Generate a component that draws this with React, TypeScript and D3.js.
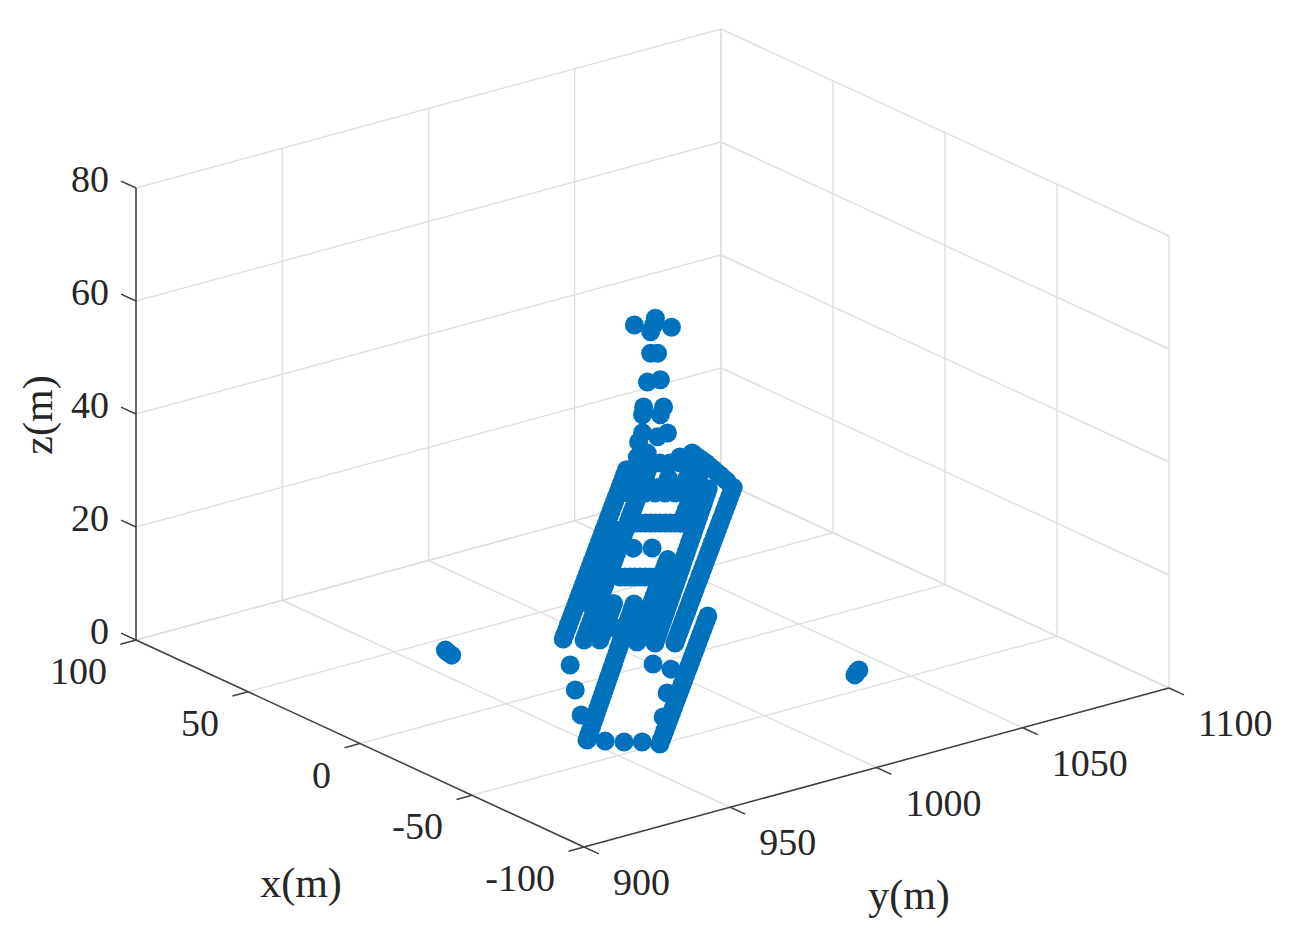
import React, { useEffect, useRef } from "react";
import * as d3 from "d3";

type Point2 = [number, number];
type Point3 = [number, number, number];

const xTicks = [-100, -50, 0, 50, 100];
const yTicks = [900, 950, 1000, 1050, 1100];
const zTicks = [0, 20, 40, 60, 80];

// tower on top of the structure
const towerPoints: Point3[] = [
  [3, 996.1, 60], [-3.1, 1004.1, 59.6], [-0.5, 1000.6, 61.2], [0.3, 999.6, 58.8], [-0.2, 1000.2, 60],
  [0.3, 999.6, 55], [-0.8, 1001.1, 55], [0.8, 998.9, 49.9], [-1.3, 1001.7, 50.3],
  [1.5, 998.1, 45.5], [-1.8, 1002.4, 45.5], [1.7, 997.9, 44.1], [-1.3, 1001.7, 44.1],
  [1.7, 997.9, 40.9], [-2.5, 1003.2, 40.9], [2.3, 997, 39.3], [-0.8, 1001.1, 40.2],
];

// upper deck rails, all at z = 10
const railA: Point2[] = [
  [-4.4, 966.1], [-1.9, 968.6], [0.6, 971.1], [3.1, 973.6], [5.6, 976.1], [8.1, 978.6], [10.6, 981.1], [13.1, 983.6],
  [15.6, 986.1], [18.1, 988.6], [20.6, 991.1], [23.1, 993.6], [25.6, 996.1], [28.1, 998.6], [30.6, 1001.1], [33.1, 1003.6],
  [35.6, 1006.1], [38.1, 1008.6], [40.6, 1011.1], [43.1, 1013.6], [45.6, 1016.1], [48.1, 1018.6], [50.6, 1021.1], [53.1, 1023.6],
  [55.6, 1026.1], [58.1, 1028.6], [60.6, 1031.1], [63.1, 1033.6], [65.6, 1036.1], [68.1, 1038.6], [70.6, 1041.1], [73.1, 1043.6],
  [75.6, 1046.1], [78.1, 1048.6], [80.6, 1051.1], [83.1, 1053.6], [85.6, 1056.1], [88.1, 1058.6],
];
const railAB: Point2[] = [
  [13.55, 988.1], [18.55, 993.1], [23.55, 998.1], [28.55, 1003.1], [33.55, 1008.1], [38.55, 1013.1], [43.55, 1018.1],
  [48.55, 1023.1], [53.55, 1028.1], [73.55, 1048.1], [78.55, 1053.1], [83.55, 1058.1],
];
const railB: Point2[] = [
  [-8.5, 970.1], [-6, 972.6], [-3.5, 975.1], [-1, 977.6], [1.5, 980.1], [4, 982.6], [6.5, 985.1], [9, 987.6],
  [11.5, 990.1], [14, 992.6], [16.5, 995.1], [19, 997.6], [21.5, 1000.1], [24, 1002.6], [26.5, 1005.1], [29, 1007.6],
  [31.5, 1010.1], [34, 1012.6], [36.5, 1015.1], [39, 1017.6], [41.5, 1020.1], [44, 1022.6], [46.5, 1025.1], [49, 1027.6],
  [51.5, 1030.1], [54, 1032.6], [56.5, 1035.1], [59, 1037.6], [61.5, 1040.1], [64, 1042.6], [66.5, 1045.1], [69, 1047.6],
  [71.5, 1050.1], [74, 1052.6], [76.5, 1055.1], [79, 1057.6], [81.5, 1060.1], [84, 1062.6], [86.5, 1065.1],
];
const railC: Point2[] = [
  [-11.1, 973.5], [-8.6, 976], [-6.1, 978.5], [-3.6, 981], [-1.1, 983.5], [1.4, 986], [3.9, 988.5], [6.4, 991], [8.9, 993.5],
];
const railD: Point2[] = [
  [-18.4, 980.6], [-15.9, 983.1], [-13.4, 985.6], [-10.9, 988.1], [-8.4, 990.6], [-5.9, 993.1], [-3.4, 995.6], [-0.9, 998.1],
  [1.6, 1000.6], [4.1, 1003.1], [6.6, 1005.6], [9.1, 1008.1], [11.6, 1010.6], [14.1, 1013.1], [16.6, 1015.6], [19.1, 1018.1],
  [21.6, 1020.6], [24.1, 1023.1], [26.6, 1025.6],
  [46.6, 1045.6], [49.1, 1048.1], [51.6, 1050.6], [54.1, 1053.1], [56.6, 1055.6], [59.1, 1058.1], [61.6, 1060.6],
  [64.1, 1063.1], [66.6, 1065.6], [69.1, 1068.1], [71.6, 1070.6],
];
const railE: Point2[] = [
  [-22, 984], [-19.5, 986.45], [-17, 988.9], [-14.5, 991.35], [-12, 993.8], [-9.5, 996.25], [-7, 998.7], [-4.5, 1001.15],
  [-2, 1003.6], [0.5, 1006.05], [3, 1008.5], [5.5, 1010.95], [8, 1013.4], [10.5, 1015.85], [13, 1018.3], [15.5, 1020.75],
  [18, 1023.2], [20.5, 1025.65], [23, 1028.1], [25.5, 1030.55], [28, 1033], [30.5, 1035.45], [33, 1037.9], [35.5, 1040.35],
  [38, 1042.8], [40.5, 1045.25], [43, 1047.7], [45.5, 1050.15], [48, 1052.6], [50.5, 1055.05], [53, 1057.5], [55.5, 1059.95],
  [58, 1062.4], [60.5, 1064.85], [63, 1067.3],
];
const railF: Point2[] = [
  [-25.3, 988.3], [-22.8, 990.8], [-20.3, 993.3], [-17.8, 995.8], [-15.3, 998.3], [-12.8, 1000.8], [-10.3, 1003.3], [-7.8, 1005.8],
  [-5.3, 1008.3], [-2.8, 1010.8], [-0.3, 1013.3], [2.2, 1015.8], [4.7, 1018.3], [7.2, 1020.8], [9.7, 1023.3], [12.2, 1025.8],
  [14.7, 1028.3], [17.2, 1030.8], [19.7, 1033.3], [22.2, 1035.8], [24.7, 1038.3], [27.2, 1040.8], [29.7, 1043.3], [32.2, 1045.8],
  [34.7, 1048.3], [37.2, 1050.8], [39.7, 1053.3], [42.2, 1055.8], [44.7, 1058.3], [47.2, 1060.8], [49.7, 1063.3], [52.2, 1065.8],
  [54.7, 1068.3], [57.2, 1070.8], [59.7, 1073.3],
];

// cross rows on the upper deck
const crossRowUpper: Point2[] = [
  [55, 1034.6], [54.2, 1035.7], [53.4, 1036.7], [52.5, 1037.8], [51.7, 1038.9], [50.9, 1040], [50.1, 1041], [49.2, 1042.1],
  [48.4, 1043.2], [47.6, 1044.3], [46.8, 1045.3], [45.9, 1046.4], [45.1, 1047.5],
];
const crossRowLower: Point2[] = [
  [23.9, 1007.2], [23.1, 1008.3], [22.3, 1009.4], [21.4, 1010.4], [20.6, 1011.5], [19.8, 1012.6], [19, 1013.7], [18.1, 1014.7], [17.3, 1015.8],
];
const crossSingles: Point2[] = [[39.3, 1023.5], [36.2, 1027.6]];
const deckTopRows: Point2[] = [
  [70.8, 1051.7], [69.2, 1053.9], [67.5, 1056], [65.9, 1058.2], [64.2, 1060.3],
  [73.6, 1055.6], [72, 1057.8], [70.3, 1059.9], [68.7, 1062.1], [67, 1064.2],
  [79.9, 1058.7], [76.1, 1063.7], [73, 1067.7],
  [89.9, 1064.6], [88.3, 1066.8], [86.6, 1068.9], [85, 1071.1], [83.3, 1073.2], [81.7, 1075.4],
  [94.8, 1070.8], [94, 1066.8],
];
const topEdge: Point2[] = [
  [87, 1076], [87.4, 1080.5], [85.3, 1080], [83.2, 1079.6], [81.1, 1079.2], [79, 1078.8], [76.6, 1078.1], [74.2, 1077.5],
  [71.8, 1076.8], [69.4, 1076.2], [67, 1075.5], [64.6, 1074.9],
];

// lower deck at ground level
const lowerLeft: Point2[] = [
  [-35.4, 950.5], [-32.9, 952.95], [-30.4, 955.4], [-27.9, 957.85], [-25.4, 960.3], [-22.9, 962.75], [-20.4, 965.2], [-17.9, 967.65],
  [-15.4, 970.1], [-12.9, 972.55], [-10.4, 975], [-7.9, 977.45], [-5.4, 979.9], [-2.9, 982.35], [-0.4, 984.8], [2.1, 987.25],
  [4.6, 989.7], [7.1, 992.15], [9.6, 994.6], [12.1, 997.05], [14.6, 999.5], [17.1, 1001.95], [19.6, 1004.4], [22.1, 1006.85],
  [24.6, 1009.3], [27.1, 1011.75], [29.6, 1014.2], [32.1, 1016.65], [34.6, 1019.1], [37.1, 1021.55], [39.6, 1024],
];
const lowerRight: Point2[] = [
  [-49.9, 964.3], [-47.4, 966.8], [-44.9, 969.3], [-42.4, 971.8], [-39.9, 974.3], [-37.4, 976.8], [-34.9, 979.3], [-32.4, 981.8],
  [-29.9, 984.3], [-27.4, 986.8], [-24.9, 989.3], [-22.4, 991.8], [-19.9, 994.3], [-17.4, 996.8], [-14.9, 999.3], [-12.4, 1001.8],
  [-9.9, 1004.3], [-7.4, 1006.8], [-4.9, 1009.3], [-2.4, 1011.8], [0.1, 1014.3], [2.6, 1016.8], [5.1, 1019.3], [7.6, 1021.8],
  [10.1, 1024.3], [12.6, 1026.8], [15.1, 1029.3], [17.6, 1031.8], [20.1, 1034.3],
];
const lowerExtras: Point2[] = [
  [-39.1, 953.9], [-42.8, 957.5], [-45.8, 961.4],
  [-19.2, 960.9], [-3, 971.3], [13, 981.8],
  [-34, 977.6], [-20.1, 989.6], [-6.2, 1001.6], [-0.1, 1000.1],
  [28.1, 1008.7],
];

// the two small clusters on the ground
const leftCluster: Point2[] = [[41.2, 961.4], [38.6, 960.9], [42.7, 961.9]];
const rightCluster: Point2[] = [[-38.6, 1040.3], [-40.1, 1038.5], [-37.8, 1041.6]];

const upperDeckZ = 10;
const groundZ = 0;

const upperDeck = [
  ...railA, ...railAB, ...railB, ...railC, ...railD, ...railE, ...railF,
  ...crossRowUpper, ...crossRowLower, ...crossSingles, ...deckTopRows, ...topEdge,
];
const ground = [...lowerLeft, ...lowerRight, ...lowerExtras, ...leftCluster, ...rightCluster];

const allPoints: Point3[] = [
  ...towerPoints,
  ...upperDeck.map(([x, y]): Point3 => [x, y, upperDeckZ]),
  ...ground.map(([x, y]): Point3 => [x, y, groundZ]),
];

const width = 1291;
const height = 931;

// front corner of the box is x=-100, y=900, z=0
const originX = 584;
const originY = 847;
const xToPxH = d3.scaleLinear().domain([-100, 100]).range([0, -448]);
const xToPxV = d3.scaleLinear().domain([-100, 100]).range([0, -207]);
const yToPxH = d3.scaleLinear().domain([900, 1100]).range([0, 585]);
const yToPxV = d3.scaleLinear().domain([900, 1100]).range([0, -159]);
const zToPxV = d3.scaleLinear().domain([0, 80]).range([0, -452]);

const project = (x: number, y: number, z: number): [number, number] => [
  originX + xToPxH(x) + yToPxH(y),
  originY + xToPxV(x) + yToPxV(y) + zToPxV(z),
];

const App = () => {
  const ref = useRef<SVGSVGElement>(null);

  useEffect(() => {
    const svg = d3.select(ref.current);
    svg.selectAll("*").remove();

    const segment = (g: any, a: Point3, b: Point3) => {
      const [x1, y1] = project(...a);
      const [x2, y2] = project(...b);
      g.append("line").attr("x1", x1).attr("y1", y1).attr("x2", x2).attr("y2", y2);
    };

    // Grid lines on the floor and the two back walls
    const grid = svg.append("g").attr("stroke", "#dedede").attr("stroke-width", 1.4);
    xTicks.forEach((x) => {
      segment(grid, [x, 900, 0], [x, 1100, 0]);
      segment(grid, [x, 1100, 0], [x, 1100, 80]);
    });
    yTicks.forEach((y) => {
      segment(grid, [-100, y, 0], [100, y, 0]);
      segment(grid, [100, y, 0], [100, y, 80]);
    });
    zTicks.forEach((z) => {
      segment(grid, [100, 900, z], [100, 1100, z]);
      segment(grid, [-100, 1100, z], [100, 1100, z]);
    });

    // Axis lines and tick marks
    const axes = svg.append("g").attr("stroke", "#404040").attr("stroke-width", 1.5);
    segment(axes, [-100, 900, 0], [100, 900, 0]);
    segment(axes, [-100, 900, 0], [-100, 1100, 0]);
    segment(axes, [100, 900, 0], [100, 900, 80]);
    xTicks.forEach((x) => segment(axes, [x, 900, 0], [x, 894.7, 0]));
    yTicks.forEach((y) => segment(axes, [-100, y, 0], [-106.7, y, 0]));
    zTicks.forEach((z) => segment(axes, [100, 900, z], [106.7, 900, z]));

    // Points
    svg
      .append("g")
      .attr("fill", "#0072BD")
      .selectAll("circle")
      .data(allPoints)
      .join("circle")
      .attr("cx", (d) => project(...d)[0])
      .attr("cy", (d) => project(...d)[1])
      .attr("r", 9.5);

    // Tick labels
    const labels = svg
      .append("g")
      .attr("font-family", "'Liberation Serif', serif")
      .attr("font-size", 38)
      .attr("fill", "#262626");

    labels
      .selectAll("text.x")
      .data(xTicks)
      .join("text")
      .attr("class", "x")
      .attr("text-anchor", "end")
      .attr("x", (d) => project(d, 900, 0)[0] - 29)
      .attr("y", (d) => project(d, 900, 0)[1] + 44)
      .text((d) => d);

    labels
      .selectAll("text.y")
      .data(yTicks)
      .join("text")
      .attr("class", "y")
      .attr("x", (d) => project(-100, d, 0)[0] + 29)
      .attr("y", (d) => project(-100, d, 0)[1] + 48)
      .text((d) => d);

    labels
      .selectAll("text.z")
      .data(zTicks)
      .join("text")
      .attr("class", "z")
      .attr("text-anchor", "end")
      .attr("x", (d) => project(100, 900, d)[0] - 27)
      .attr("y", (d) => project(100, 900, d)[1] + 4)
      .text((d) => d);

    // Axis titles
    const titles = labels.append("g").attr("font-size", 42).attr("text-anchor", "middle");
    titles.append("text").attr("x", 301).attr("y", 897).text("x(m)");
    titles.append("text").attr("x", 909).attr("y", 909).text("y(m)");
    titles.append("text").attr("transform", "translate(52,415) rotate(-90)").text("z(m)");
  }, []);

  return (
    <svg
      ref={ref}
      width={width}
      height={height}
      style={{ position: "absolute", left: 0, top: 0, background: "#fff" }}
    />
  );
};

export default App;
